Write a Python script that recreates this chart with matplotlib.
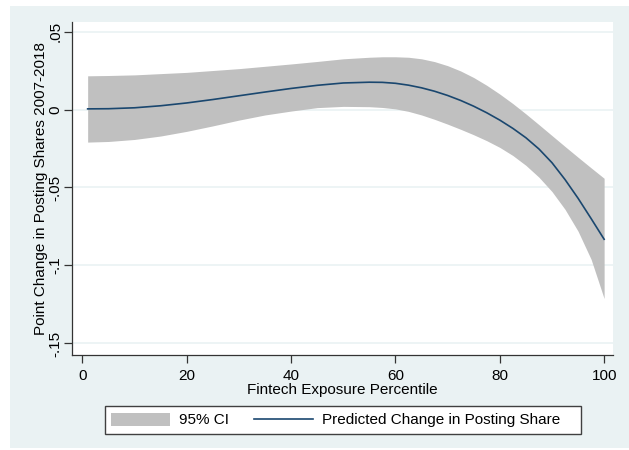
import matplotlib
matplotlib.use("Agg")
import matplotlib.pyplot as plt
from matplotlib.patches import Rectangle

# Data
pct = [1, 5, 10, 15, 20, 25, 30, 35, 40, 45, 50, 55, 57.5, 60, 62.5, 65, 67.5, 70, 72.5,
       75, 77.5, 80, 82.5, 85, 87.5, 90, 92.5, 95, 97.5, 100]
pred = [0.0004, 0.0005, 0.0011, 0.0024, 0.0042, 0.0064, 0.0088, 0.0112, 0.0135, 0.0155,
        0.0170, 0.0175, 0.0174, 0.0168, 0.0156, 0.0139, 0.0117, 0.0090, 0.0058,
        0.0021, -0.0021, -0.0068, -0.0121, -0.0181, -0.0253, -0.0341, -0.0449, -0.0569, -0.0699, -0.0832]
ci_upper = [0.0216, 0.0218, 0.0222, 0.0230, 0.0238, 0.0250, 0.0262, 0.0277, 0.0292, 0.0308,
            0.0325, 0.0335, 0.0338, 0.0338, 0.0335, 0.0325, 0.0307, 0.0281, 0.0247,
            0.0205, 0.0155, 0.0099, 0.0038, -0.0028, -0.0097, -0.0167, -0.0237, -0.0306, -0.0374, -0.0441]
ci_lower = [-0.0209, -0.0205, -0.0192, -0.0170, -0.0140, -0.0105, -0.0068, -0.0035, -0.0010, 0.0012,
            0.0020, 0.0018, 0.0013, 0.0004, -0.0012, -0.0035, -0.0063, -0.0094, -0.0127,
            -0.0162, -0.0200, -0.0243, -0.0295, -0.0358, -0.0434, -0.0526, -0.0640, -0.0780, -0.0960, -0.1212]

xticks = [0, 20, 40, 60, 80, 100]
xtick_labels = ["0", "20", "40", "60", "80", "100"]
yticks = [-0.15, -0.1, -0.05, 0, 0.05]
ytick_labels = ["-.15", "-.1", "-.05", "0", ".05"]

BG = "#EAF2F3"
NAVY = "#1A476F"
BAND = "#C0C0C0"
AXC = "#333333"

plt.rcParams['font.family'] = ['Liberation Sans', 'DejaVu Sans']

W, H = 629, 450
fig = plt.figure(figsize=(W / 100, H / 100), dpi=100)
fig.patch.set_facecolor("white")
fig.patches.append(Rectangle((10 / W, 2 / H), 1 - 10 / W, 1 - 8 / H,
                             transform=fig.transFigure, facecolor=BG,
                             edgecolor="none", zorder=-10))

ax = fig.add_axes([72 / W, 1 - 355 / H, (613 - 72) / W, (355 - 22) / H])
ax.set_facecolor("white")

band = ax.fill_between(pct, ci_lower, ci_upper, color=BAND, linewidth=0, zorder=2)
line, = ax.plot(pct, pred, color=NAVY, linewidth=1.2, zorder=3)

ax.set_xlim(-2.0, 101.7)
ax.set_ylim(-0.1574, 0.0561)

ax.set_xticks(xticks)
ax.set_xticklabels(xtick_labels, fontsize=11)
ax.set_yticks(yticks)
ax.set_yticklabels(ytick_labels, fontsize=11, rotation=90, va="center")

ax.yaxis.grid(True, color=BG, linewidth=1.2, zorder=0)
ax.set_axisbelow(True)

for s in ["top", "right"]:
    ax.spines[s].set_visible(False)
for s in ["left", "bottom"]:
    ax.spines[s].set_color(AXC)
    ax.spines[s].set_linewidth(0.9)
ax.tick_params(axis="both", direction="out", length=5.5, width=0.9, color=AXC,
               labelcolor="black")
ax.tick_params(axis="x", pad=4.8)
ax.tick_params(axis="y", pad=1.5)

ax.set_xlabel("Fintech Exposure Percentile", fontsize=11, labelpad=0)
ax.set_ylabel("Point Change in Posting Shares 2007-2018", fontsize=11, labelpad=0.5)

# legend box
fig.patches.append(Rectangle((105 / W, 1 - 434 / H), 476 / W, 28 / H,
                             transform=fig.transFigure, facecolor="white",
                             edgecolor="#404040", linewidth=1.0, zorder=1))
leg = fig.legend(handles=[band, line], labels=["95% CI", "Predicted Change in Posting Share"],
                 loc="center left", bbox_to_anchor=(111 / W, 1 - 420 / H), ncol=2,
                 fontsize=11, frameon=False, handlelength=3.86, handleheight=0.98,
                 handletextpad=0.59, columnspacing=1.64, borderpad=0, borderaxespad=0)
leg.set_zorder(5)

fig.savefig("out.png", dpi=100, facecolor=fig.get_facecolor())
